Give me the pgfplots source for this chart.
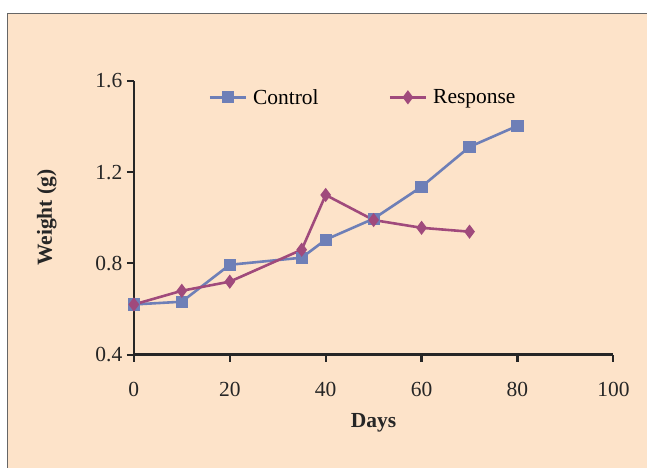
\documentclass[border=0pt]{standalone}
\usepackage{fontspec}
\setmainfont{Liberation Serif}
\usepackage{pgfplots}
\pgfplotsset{compat=1.18}
\definecolor{bg}{HTML}{FDE3C9}
\definecolor{ctrl}{HTML}{6E7FB7}
\definecolor{resp}{HTML}{A04A7C}
\begin{document}
\begin{tikzpicture}[x=1pt,y=1pt]
  % page and panel
  \fill[white] (0,0) rectangle (648,468);
  \fill[bg] (7,0) rectangle (648,455);
  \draw[black!60, line width=1.3pt] (7.6,0) -- (7.6,454.4) -- (648,454.4);
  \begin{axis}[
      at={(134pt,113pt)}, anchor=south west,
      scale only axis, width=480pt, height=274pt,
      xmin=0, xmax=100, ymin=0.4, ymax=1.6,
      xtick={0,20,...,100}, ytick={0.4,0.8,1.2,1.6},
      axis x line=bottom, axis y line=left,
      axis line style={-, line width=2.4pt, black!85},
      tick align=outside, major tick length=7pt,
      tick style={line width=2.2pt, black!85},
      every tick label/.append style={font=\fontsize{21.5}{24}\selectfont, text=black!85},
      /pgf/number format/assume math mode=true,
      yticklabel style={/pgf/number format/fixed, /pgf/number format/fixed zerofill, /pgf/number format/precision=1, xshift=-1pt},
      xticklabel style={yshift=-17pt},
      xlabel={\textbf{Days}}, ylabel={\textbf{Weight (g)}},
      label style={font=\fontsize{21.5}{24}\selectfont, text=black!85},
      xlabel style={yshift=-10pt},
      ylabel style={yshift=32pt},
      clip=false,
      legend style={at={(0.149,0.94)}, anchor=west, draw=none, fill=none,
        font=\fontsize{21.5}{24}\selectfont,
        /tikz/every odd column/.append style={column sep=4pt},
        /tikz/every even column/.append style={column sep=68pt}},
      legend columns=2,
      legend image code/.code={\draw[mark repeat=2,mark phase=2] plot coordinates {(0pt,0pt) (18pt,0pt) (36pt,0pt)};},
    ]
    \addplot[ctrl, line width=2.6pt, mark=square*, mark size=4.8pt, mark options={solid}] coordinates {
      (0,0.62) (10,0.632) (20,0.794) (35,0.825) (40,0.904) (50,0.996) (60,1.136) (70,1.311) (80,1.403)
    };
    \addplot[resp, line width=2.6pt, mark=diamond*, mark size=5pt, mark options={solid}] coordinates {
      (0,0.62) (10,0.68) (20,0.72) (35,0.86) (40,1.10) (50,0.99) (60,0.956) (70,0.939)
    };
    \legend{Control, Response}
  \end{axis}
\end{tikzpicture}
\end{document}
